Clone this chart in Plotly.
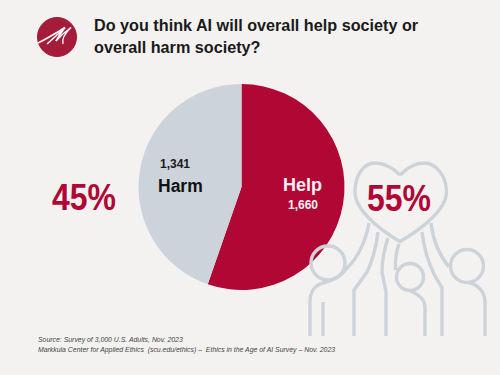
import plotly.graph_objects as go

labels = ["Help", "Harm"]
counts = [1660, 1341]
percents = ["55%", "45%"]
title_lines = ["Do you think AI will overall help society or", "overall harm society?"]
source_lines = ["Source: Survey of 3,000 U.S. Adults, Nov. 2023",
                "Markkula Center for Applied Ethics  (scu.edu/ethics) \u2013  Ethics in the Age of AI Survey \u2013 Nov. 2023"]

W, H = 500, 375
RED = "#b10735"
GREY = "#cdd3da"
BG = "#f3f2f0"
SANS = "Liberation Sans, Arial, sans-serif"


def px(x):
    return x / W


def py(y):
    return 1 - y / H


def path(*cmds):
    out = []
    for c in cmds:
        if isinstance(c, str):
            out.append(c)
        else:
            out.append(f"{px(c[0]):.5f},{py(c[1]):.5f}")
    return " ".join(out)


def line_path(d, color=GREY, width=3.4):
    return dict(type="path", xref="paper", yref="paper", path=d,
                line=dict(color=color, width=width), layer="above")


def circle(cx, cy, r, fill="rgba(0,0,0,0)", line=GREY, width=3.4):
    return dict(type="circle", xref="paper", yref="paper", x0=px(cx - r), x1=px(cx + r),
                y0=py(cy + r), y1=py(cy - r), fillcolor=fill,
                line=dict(color=line, width=width), layer="above")


fig = go.Figure(go.Pie(
    labels=labels, values=counts, sort=False, direction="clockwise", rotation=0,
    marker=dict(colors=[RED, GREY], line=dict(width=0)),
    textinfo="none", hoverinfo="label+value", showlegend=False,
    domain=dict(x=[px(138), px(345)], y=[py(290), py(84)]),
))

shapes = [
    # logo
    circle(57, 37, 19.5, fill="#a51c3a", line="#a51c3a", width=1),
    line_path(path("M", (38, 43), "Q", (50, 37), (65, 27.5)), "white", 1.5),
    line_path(path("M", (47, 44), "Q", (55, 37), (65, 27.5), "Q", (58, 37), (56, 41)), "white", 1.5),
    line_path(path("M", (56, 41), "Q", (62, 34), (71, 27.5)), "white", 1.5),
    line_path(path("M", (71, 27.5), "Q", (61, 37), (63, 44)), "white", 1.3),
    # heart
    line_path(path("M", (400, 175), "C", (392, 167), (383, 163), (375, 163),
                   "C", (363, 163), (355, 176), (355, 192),
                   "C", (355, 210), (380, 230), (400, 241.5),
                   "C", (420, 230), (446.5, 210), (446.5, 192),
                   "C", (446.5, 176), (436, 163), (424, 163),
                   "C", (415, 163), (408, 167), (400, 175))),
    # heads
    circle(328, 263, 17), circle(410, 277, 13.5), circle(467, 266, 16.5),
    # left figure
    line_path(path("M", (369, 223), "C", (366, 240), (358, 258), (347, 268),
                   "C", (340, 278), (330, 281), (323, 283),
                   "C", (315, 285), (310, 292), (310, 302), "L", (310, 336))),
    line_path(path("M", (323, 302), "L", (323, 336))),
    # arms and torsos
    line_path(path("M", (378, 232), "C", (376, 248), (372, 262), (367, 272),
                   "L", (354, 290), "L", (354, 336))),
    line_path(path("M", (388, 238), "C", (384, 250), (382, 262), (382, 272),
                   "L", (386, 292), "L", (386, 336))),
    line_path(path("M", (399, 244), "C", (396, 252), (395, 260), (395.5, 270))),
    line_path(path("M", (410, 290.5), "C", (418, 295), (425, 298), (425, 308), "L", (425, 336))),
    line_path(path("M", (422, 232), "C", (424, 248), (428, 262), (434, 274),
                   "L", (442, 288), "L", (442, 336))),
    line_path(path("M", (431, 223), "C", (433, 240), (440, 256), (449, 267))),
    line_path(path("M", (468, 282.5), "C", (478, 284), (485, 292), (485, 302), "L", (485, 336))),
]

annotations = []


def text(x, y, s, size, color, font=SANS, anchor="center", bold=False, italic=False):
    if bold:
        s = f"<b>{s}</b>"
    if italic:
        s = f"<i>{s}</i>"
    annotations.append(dict(x=px(x), y=py(y), xref="paper", yref="paper", text=s, showarrow=False,
                            xanchor=anchor, yanchor="middle", align="left",
                            font=dict(family=font, size=size, color=color)))


text(91.5, 25, title_lines[0], 16.2, "#1a1a1a", anchor="left", bold=True)
text(91.5, 47, title_lines[1], 16.2, "#1a1a1a", anchor="left", bold=True)
text(174.5, 164, f"{counts[1]:,}", 12, "#1a1a1a", bold=True)
text(180.5, 186, labels[1], 17.5, "#111111", bold=True)
text(302.5, 185, labels[0], 18, "#f7f0f2", bold=True)
text(302.5, 205, f"{counts[0]:,}", 12, "#f7f0f2", bold=True)
text(88, 197, percents[1], 36, RED, bold=True)
text(403, 198, percents[0], 36, RED, bold=True)
text(36, 340, source_lines[0], 6.9, "#444444", anchor="left", italic=True)
text(36, 350, source_lines[1], 6.9, "#444444", anchor="left", italic=True)

fig.update_layout(width=W, height=H, margin=dict(l=0, r=0, t=0, b=0),
                  paper_bgcolor=BG, plot_bgcolor=BG, shapes=shapes, annotations=annotations)

page_script = """
document.documentElement.style.background = '#f3f2f0';
document.body.style.margin = '0';
document.querySelectorAll('.annotation-text').forEach(function (t) {
  if (t.textContent.endsWith('%')) {
    t.setAttribute('textLength', '64');
    t.setAttribute('lengthAdjust', 'spacingAndGlyphs');
  }
});
"""
fig.write_html("out.html", post_script=page_script, config={"displayModeBar": False})
